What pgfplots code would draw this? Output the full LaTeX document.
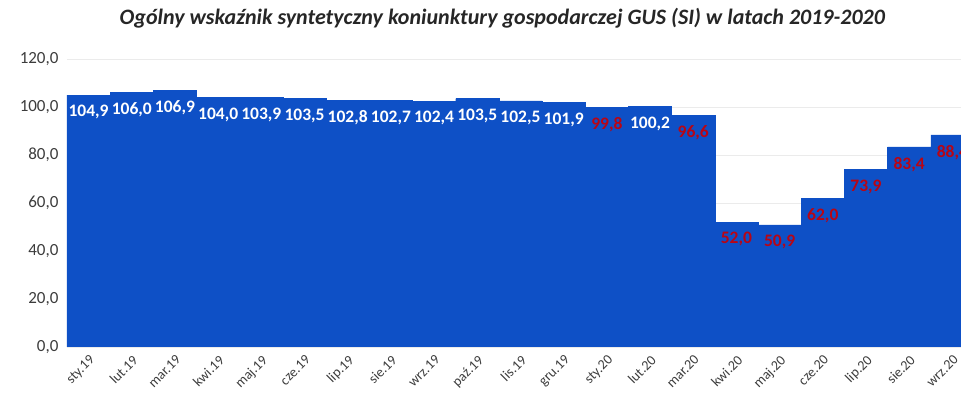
\documentclass[border=0pt]{standalone}
\usepackage{pgfplots}
\pgfplotsset{compat=1.18}
\usepackage{fontspec}
\setmainfont{Carlito}
\definecolor{barblue}{RGB}{14,80,198}
\definecolor{lblred}{RGB}{185,5,20}
\definecolor{tickgray}{RGB}{60,60,60}
\begin{document}
\begin{tikzpicture}
\begin{axis}[
  scale only axis, width=894pt, height=288pt,
  xmin=-0.5, xmax=20.2, ymin=0, ymax=120,
  axis line style={draw=none}, tick style={draw=none},
  ytick={0,20,...,120},
  ymajorgrids, grid style={black!8, line width=0.6pt},
  xtick={0,...,20},
  xticklabels={sty.19,lut.19,mar.19,kwi.19,maj.19,cze.19,lip.19,sie.19,wrz.19,paź.19,lis.19,gru.19,sty.20,lut.20,mar.20,kwi.20,maj.20,cze.20,lip.20,sie.20,wrz.20},
  xticklabel style={rotate=45, anchor=north east, font=\fontsize{14}{16}\selectfont, text=tickgray, inner sep=2pt, yshift=-3pt, xshift=-3pt},
  yticklabel style={font=\fontsize{17}{19}\selectfont, text=tickgray, xshift=-5pt},
  /pgf/number format/.cd, fixed, fixed zerofill, precision=1, use comma, assume math mode=true,
  /pgfplots/.cd,
  point meta=y,
]
\addplot[ybar, bar width=1, bar shift=0pt, fill=barblue, draw=barblue, line width=0.3pt] coordinates {
(0,104.9) (1,106.0) (2,106.9) (3,104.0) (4,103.9) (5,103.5) (6,102.8) (7,102.7) (8,102.4) (9,103.5) (10,102.5) (11,101.9) (12,99.8) (13,100.2) (14,96.6) (15,52.0) (16,50.9) (17,62.0) (18,73.9) (19,83.4) (20,88.4)};
\addplot[ybar, bar width=1, bar shift=0pt, draw=none, fill=none, nodes near coords,
  nodes near coords style={text=white, font=\fontsize{17.5}{19}\selectfont\bfseries, anchor=north, yshift=-9pt, inner sep=1pt}] coordinates {
(0,104.9) (1,106.0) (2,106.9) (3,104.0) (4,103.9) (5,103.5) (6,102.8) (7,102.7) (8,102.4) (9,103.5) (10,102.5) (11,101.9) (13,100.2)};
\addplot[ybar, bar width=1, bar shift=0pt, draw=none, fill=none, nodes near coords,
  nodes near coords style={text=lblred, font=\fontsize{17.5}{19}\selectfont\bfseries, anchor=north, yshift=-9pt, inner sep=1pt}] coordinates {
(12,99.8) (14,96.6) (15,52.0) (16,50.9) (17,62.0) (18,73.9) (19,83.4) (20,88.4)};
\coordinate (bl) at (rel axis cs:0,0);
\coordinate (tr) at (rel axis cs:1,1);
\coordinate (tt) at (rel axis cs:0.487,1);
\end{axis}
\node[font=\fontsize{22}{24}\selectfont\bfseries\itshape, text=black!85] at ([yshift=41pt]tt) {Ogólny wskaźnik syntetyczny koniunktury gospodarczej GUS (SI) w latach 2019-2020};
\pgfresetboundingbox
\path[use as bounding box] ([xshift=-67pt,yshift=-56pt]bl) rectangle ([yshift=59pt]tr);
\end{tikzpicture}
\end{document}
